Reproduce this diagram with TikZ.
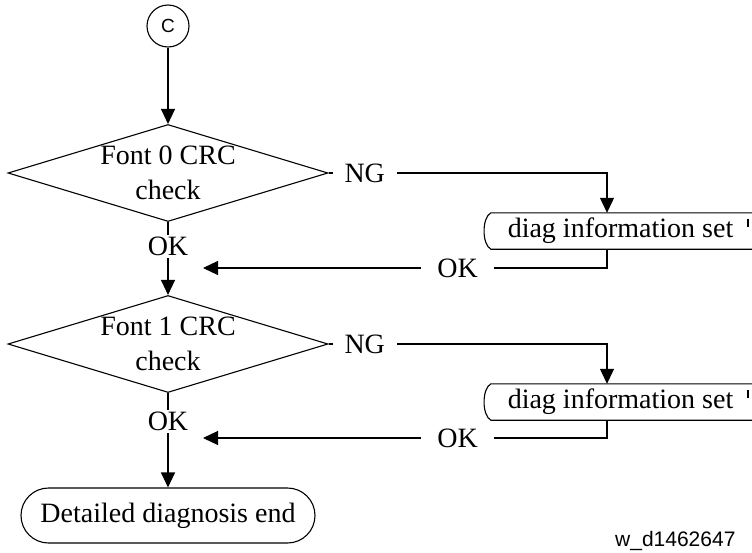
\documentclass[tikz,border=0pt]{standalone}
\usepackage{fontspec}
\setmainfont{Liberation Serif}
\newfontfamily\labelsans{Liberation Sans}
\usetikzlibrary{
  positioning,
  arrows.meta,
  shapes.geometric,
  shapes.misc
}
\tikzset{
  >=Latex,
  flowarrow/.style={-{Triangle[length=15pt,width=14pt]},line width=1.1pt},
  flowline/.style={line width=1.1pt},
  connector/.style={circle,draw,line width=1.1pt,minimum size=42pt,inner sep=0pt,font=\labelsans\fontsize{19}{21}\selectfont},
  decision/.style={diamond,draw,line width=1.1pt,aspect=3.3,minimum width=320pt,minimum height=97pt,inner sep=0pt,align=center},
  startstop/.style={rounded rectangle,draw,line width=1.1pt,minimum width=298pt,minimum height=55pt,inner sep=2pt},
  subproc/.style={minimum width=275pt,minimum height=36pt,inner sep=0pt},
  gaplabel/.style={fill=white,inner xsep=12pt,inner ysep=2pt}
}

\begin{document}
\begin{tikzpicture}[x=1pt,y=-1pt,font=\fontsize{28}{35}\selectfont]
    \useasboundingbox (0,0) rectangle (752,552);
    % Ablauf
    \node[connector] (con) at (168,26) {C};
    \node[decision] (chk0) at (168,173) {Font 0 CRC\\check};
    \node[decision] (chk1) at (168,344) {Font 1 CRC\\check};
    \node[startstop] (fin) at (168,515.5) {Detailed diagnosis end};
    % Unterprogramme
    \node[subproc] (diag0) at (620.5,231) {diag information set};
    \node[subproc] (diag1) at (620.5,402) {diag information set};
    \foreach \d in {diag0,diag1} {
        \draw[flowline] (\d.north east) -- ([xshift=8pt]\d.north west)
            .. controls ([xshift=-1pt,yshift=-5pt]\d.north west) and ([xshift=-1pt,yshift=5pt]\d.south west) .. ([xshift=8pt]\d.south west)
            -- (\d.south east);
        \draw[flowline] ([xshift=127.5pt,yshift=-6pt]\d.north) -- ([xshift=127.5pt,yshift=4pt]\d.center);
    }
    \coordinate (col) at (607,0);
    \coordinate (ret0) at (203,268);
    \coordinate (ret1) at (203,438);

    \draw[flowarrow] (con) -- (chk0);
    \draw[flowarrow] (chk0.south) -- node[gaplabel,pos=0.34,inner xsep=2pt]{OK} (chk1.north);
    \draw[flowarrow] (chk1.south) -- node[gaplabel,pos=0.3,inner xsep=2pt]{OK} (fin.north);

    \draw[flowarrow] (chk0.east) -| node[gaplabel,pos=0.065]{NG} (diag0.north -| col);
    \draw[flowarrow] (chk1.east) -| node[gaplabel,pos=0.065]{NG} (diag1.north -| col);
    \draw[flowarrow] (diag0.south -| col) |- node[gaplabel,pos=0.685,inner xsep=16pt]{OK} (ret0);
    \draw[flowarrow] (diag1.south -| col) |- node[gaplabel,pos=0.685,inner xsep=16pt]{OK} (ret1);

    \node[anchor=base east,font=\labelsans\fontsize{21}{24}\selectfont] (code) at (739,546) {w\_d1462647};
\end{tikzpicture}
\end{document}
